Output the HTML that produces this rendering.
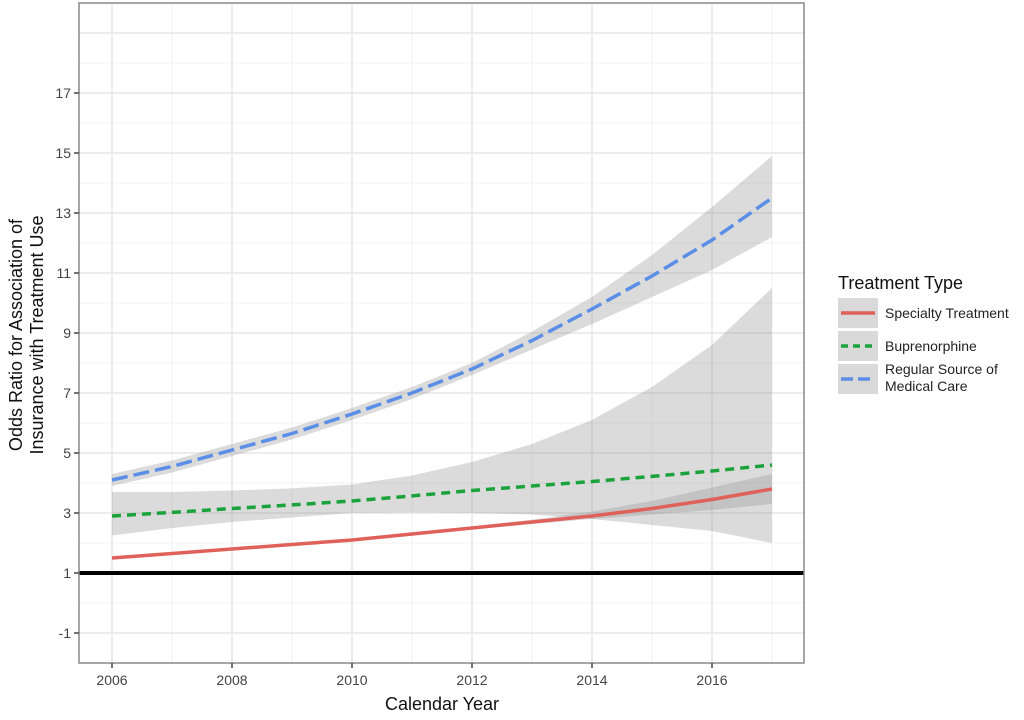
<!DOCTYPE html>
<html><head><meta charset="utf-8"><style>
body{margin:0;background:#fff;font-family:"Liberation Sans",sans-serif}
svg text{font-family:"Liberation Sans",sans-serif}
</style></head><body>
<svg id="c" width="1024" height="715"></svg>
<script>
const years=[2006,2007,2008,2009,2010,2011,2012,2013,2014,2015,2016,2017];
const blue=[4.1,4.55,5.1,5.65,6.3,7.0,7.8,8.75,9.8,10.9,12.1,13.5];
const blueLo=[3.9,4.35,4.9,5.45,6.1,6.8,7.6,8.45,9.3,10.2,11.1,12.2];
const blueHi=[4.3,4.75,5.3,5.85,6.5,7.2,8.0,9.05,10.2,11.6,13.2,14.9];
const green=[2.9,3.02,3.15,3.27,3.4,3.57,3.75,3.9,4.05,4.22,4.4,4.6];
const greenLo=[2.25,2.5,2.7,2.85,3.0,3.02,3.0,2.95,2.8,2.6,2.4,2.0];
const greenHi=[3.7,3.7,3.75,3.82,3.95,4.25,4.7,5.3,6.1,7.2,8.6,10.5];
const red=[1.5,1.65,1.8,1.95,2.1,2.3,2.5,2.7,2.9,3.15,3.45,3.8];
const redLo=[1.45,1.6,1.75,1.9,2.05,2.25,2.45,2.63,2.8,2.95,3.1,3.3];
const redHi=[1.55,1.7,1.85,2.0,2.15,2.35,2.55,2.78,3.05,3.4,3.85,4.3];
const yTicks=[-1,1,3,5,7,9,11,13,15,17];
const xTicks=[2006,2008,2010,2012,2014,2016];
const L=79,R=804,T=3,B=663;
const X=v=>112+(v-2006)*60;
const Y=v=>573-(v-1)*30;
const svg=document.getElementById('c');
const NS='http://www.w3.org/2000/svg';
function mk(tag,attrs,parent){const e=document.createElementNS(NS,tag);for(const k in attrs)e.setAttribute(k,attrs[k]);(parent||svg).appendChild(e);return e;}
// background
let bg=mk('rect',{x:L,y:T,width:R-L,height:B-T,fill:'#fff'});


// minor grid
for(let v=-2;v<=19;v+=2){let g=mk('line',{x1:L,x2:R,y1:Y(v),y2:Y(v),stroke:'#f0f0f0','stroke-width':1});

}
for(let yr=2007;yr<=2017;yr+=2){let g=mk('line',{x1:X(yr),x2:X(yr),y1:T,y2:B,stroke:'#f0f0f0','stroke-width':1});

}
yTicks.concat([19]).forEach(v=>{let g=mk('line',{x1:L,x2:R,y1:Y(v),y2:Y(v),stroke:'#e6e6e6','stroke-width':1.5});

});
xTicks.forEach(v=>{let g=mk('line',{x1:X(v),x2:X(v),y1:T,y2:B,stroke:'#e6e6e6','stroke-width':1.5});

});
function band(lo,hi,name){let d='M'+years.map((y,i)=>X(y)+','+Y(hi[i])).join('L')+'L'+years.slice().reverse().map((y,j)=>{let i=years.length-1-j;return X(y)+','+Y(lo[i]);}).join('L')+'Z';
let p=mk('path',{d:d,fill:'#999',opacity:0.35});

}
band(greenLo,greenHi,'buprenorphine-ci-band');
band(redLo,redHi,'specialty-ci-band');
band(blueLo,blueHi,'medical-care-ci-band');
// reference line
let rl=mk('line',{x1:L,x2:R,y1:Y(1),y2:Y(1),stroke:'#000','stroke-width':4});


function line(vals,color,dash,name){let p=mk('polyline',{points:years.map((y,i)=>X(y)+','+Y(vals[i])).join(' '),fill:'none',stroke:color,'stroke-width':3.5,'stroke-dasharray':dash});

}
line(red,'#e0605a','none','specialty-treatment-line');
line(green,'#1aa33a','9,6','buprenorphine-line');
line(blue,'#5b8ee6','16,6','medical-care-line');
// border
let bd=mk('rect',{x:L,y:T,width:R-L,height:B-T,fill:'none',stroke:'#888','stroke-width':1.5});


yTicks.forEach(v=>{let t=mk('line',{x1:L-5,x2:L,y1:Y(v),y2:Y(v),stroke:'#444','stroke-width':1.5});


let tx=mk('text',{x:L-8,y:Y(v)+5,'text-anchor':'end','font-size':14,fill:'#444'});tx.textContent=v;

});
xTicks.forEach(v=>{let t=mk('line',{x1:X(v),x2:X(v),y1:B,y2:B+5,stroke:'#444','stroke-width':1.5});


let tx=mk('text',{x:X(v),y:B+22,'text-anchor':'middle','font-size':14,fill:'#444'});tx.textContent=v;

});
</script>
<svg style="position:absolute;left:0;top:0" width="1024" height="715">
<text x="442" y="710" text-anchor="middle" font-size="18" fill="#111">Calendar Year</text>
<text transform="translate(22,335) rotate(-90)" text-anchor="middle" font-size="18" fill="#111"><tspan x="0" y="0">Odds Ratio for Association of</tspan><tspan x="0" y="21">Insurance with Treatment Use</tspan></text>
<g>
<text x="838" y="289" font-size="18" fill="#111">Treatment Type</text>
<rect x="838" y="298" width="40" height="30" fill="#d9d9d9"/>
<line x1="841" x2="875" y1="313" y2="313" stroke="#e0605a" stroke-width="3.5"/>
<text x="885" y="318" font-size="14" fill="#222">Specialty Treatment</text>
<rect x="838" y="331" width="40" height="30" fill="#d9d9d9"/>
<line x1="841" x2="875" y1="346" y2="346" stroke="#1aa33a" stroke-width="3.5" stroke-dasharray="7,5"/>
<text x="885" y="351" font-size="14" fill="#222">Buprenorphine</text>
<rect x="838" y="364" width="40" height="30" fill="#d9d9d9"/>
<line x1="841" x2="875" y1="379" y2="379" stroke="#5b8ee6" stroke-width="3.5" stroke-dasharray="12,5"/>
<text x="885" y="374" font-size="14" fill="#222"><tspan x="885">Regular Source of</tspan><tspan x="885" dy="17">Medical Care</tspan></text>
</g>
</svg>
</body></html>
